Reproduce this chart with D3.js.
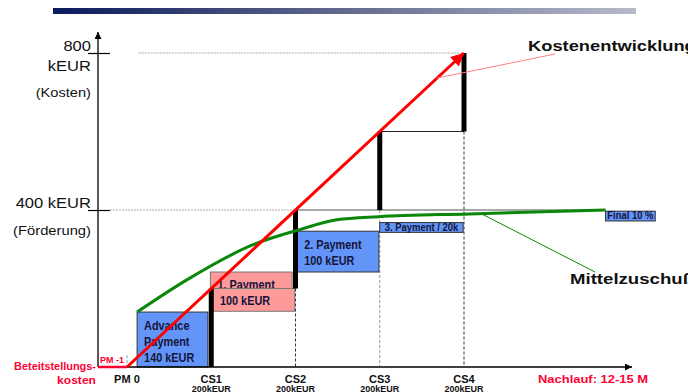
<!DOCTYPE html>
<html>
<head>
<meta charset="utf-8">
<script src="https://cdn.jsdelivr.net/npm/d3@7"></script>
<style>
body { margin: 0; background: #fff; }
svg { display: block; font-family: "Liberation Sans", Arial, sans-serif; }
</style>
</head>
<body>
<svg width="688" height="392"></svg>
<script>
// milestones along the time axis (PM 0 = 0, CS1..CS4 = 1..4)
const milestones = ["PM 0", "CS1", "CS2", "CS3", "CS4"];
const milestone_t = [0, 1, 2, 3, 4];
const milestone_sub = ["", "200kEUR", "200kEUR", "200kEUR", "200kEUR"];
const milestone_dash_from = [30, null, 200, 400, 600];

// cumulative cost after each cost statement (kEUR)
const cost_t = [1, 2, 3, 4];
const cost_steps = [200, 400, 600, 800];

// straight cost trend (Kostenentwicklung)
const cost_trend = [[0, 0], [4, 800]];

// funding curve (Mittelzuschuss)
const funding_t = [0.12, 0.71, 1.49, 2.05, 2.49, 2.99, 4.06, 5.68];
const funding_v = [140, 222, 311, 350, 375, 383, 390, 400];

// payment boxes: time span and value span
const pay_labels = [["Advance", "Payment", "140 kEUR"], ["1. Payment"], ["100 kEUR"], ["2. Payment", "100 kEUR"], ["3. Payment / 20k"], ["Final 10 %"]];
const pay_t0 = [0.12, 0.99, 1.02, 2.02, 3.0, 5.68];
const pay_t1 = [0.96, 1.96, 1.99, 2.99, 3.99, 6.27];
const pay_v0 = [0, 200, 142, 242, 343, 372];
const pay_v1 = [140, 242, 200, 346, 368, 397];
const pay_kind = ["blue", "pink", "pink", "blue", "blue", "blue"];

const y_ticks = [400, 800];

var svg = d3.select("svg");

var x = d3.scaleLinear().domain([0, 4]).range([127, 464]);
var y = d3.scaleLinear().domain([0, 800]).range([367, 53]);

const t_origin = x.invert(98);
const t_end = x.invert(632);
const v_top = y.invert(32);

var defs = svg.append("defs");
var grad = defs.append("linearGradient").attr("id", "hdr");
grad.append("stop").attr("offset", "0%").attr("stop-color", "#0a1a5c");
grad.append("stop").attr("offset", "45%").attr("stop-color", "#5a6288");
grad.append("stop").attr("offset", "100%").attr("stop-color", "#b6bacb");

function marker(id, color, w, h) {
	defs.append("marker")
		.attr("id", id)
		.attr("markerUnits", "userSpaceOnUse")
		.attr("viewBox", "0 0 10 10")
		.attr("refX", 10).attr("refY", 5)
		.attr("markerWidth", w).attr("markerHeight", h)
		.attr("orient", "auto")
		.append("path")
		.attr("d", "M0,0 L10,5 L0,10 Z")
		.attr("fill", color);
}
marker("ax", "#000", 9, 7);
marker("red", "#ff0000", 16, 13);

// text stretched to the picture's glyph widths
function add_text(x0, y0, s, size, stretch, bold, anchor, color) {
	var t = svg.append("text")
		.attr("x", x0).attr("y", y0)
		.attr("font-size", size)
		.attr("font-weight", bold ? "bold" : null)
		.attr("text-anchor", anchor || "start")
		.attr("fill", color || "#111")
		.text(s);
	var w = t.node().getComputedTextLength();
	t.attr("textLength", w * stretch).attr("lengthAdjust", "spacingAndGlyphs");
	return t;
}

svg.append("rect")
	.attr("x", 53).attr("y", 8).attr("width", 583).attr("height", 6)
	.attr("fill", "url(#hdr)");

// reference lines at 800 and 400
svg.append("line")
	.attr("x1", x(0.14)).attr("x2", x(4)).attr("y1", y(800)).attr("y2", y(800))
	.attr("stroke", "#aaa").attr("stroke-dasharray", "2,1");
svg.append("line")
	.attr("x1", 110).attr("x2", x(2)).attr("y1", y(400)).attr("y2", y(400))
	.attr("stroke", "#aaa").attr("stroke-dasharray", "2,1");

// dashed milestone lines
milestone_t.forEach(function(t, i) {
	if (milestone_dash_from[i] == null) return;
	svg.append("line")
		.attr("x1", x(t)).attr("x2", x(t))
		.attr("y1", y(milestone_dash_from[i])).attr("y2", y(0))
		.attr("stroke", (i == 2 || i == 4) ? "#333" : "#999")
		.attr("stroke-dasharray", "3,2");
});

// horizontal step lines
cost_steps.forEach(function(v, i) {
	if (i >= 3) return;
	var t_to = (v == 400) ? funding_t[funding_t.length - 1] : cost_t[i] + 1;
	svg.append("line")
		.attr("x1", x(cost_t[i])).attr("x2", x(t_to))
		.attr("y1", y(v)).attr("y2", y(v))
		.attr("stroke", v == 400 ? "#555" : "#222").attr("stroke-width", 1.2);
});

// payment boxes
pay_labels.forEach(function(lines, i) {
	var x0 = x(pay_t0[i]), x1 = x(pay_t1[i]);
	var y0 = y(pay_v1[i]), y1 = y(pay_v0[i]);
	svg.append("rect")
		.attr("x", x0).attr("y", y0)
		.attr("width", x1 - x0).attr("height", y1 - y0)
		.attr("fill", pay_kind[i] == "blue" ? "#6394f8" : "#ff9a9a")
		.attr("stroke", pay_kind[i] == "blue" ? "#333" : "#777")
		.attr("stroke-width", 1);
	var small = (y1 - y0) < 14;
	lines.forEach(function(s, j) {
		if (small) {
			add_text((x0 + x1) / 2, y1 - 1.5, s, 10.5, 0.9, true, "middle", "#14143a");
		} else {
			var yy = lines.length == 1 ? y0 + 16.5 : y0 + 17.5 + j * 16;
			add_text(x0 + 7, yy, s, 12.5, 0.87, true, "start", "#14143a");
		}
	});
});

// cost staircase bars
cost_steps.forEach(function(v, i) {
	var prev = i == 0 ? 0 : cost_steps[i - 1];
	svg.append("rect")
		.attr("x", x(cost_t[i]) - 2.5).attr("y", y(v))
		.attr("width", 5).attr("height", y(prev) - y(v))
		.attr("fill", "#000");
});

// axes
svg.append("line")
	.attr("x1", x(t_origin)).attr("x2", x(t_origin)).attr("y1", y(0)).attr("y2", y(v_top))
	.attr("stroke", "#000").attr("stroke-width", 1.3).attr("marker-end", "url(#ax)");
svg.append("line")
	.attr("x1", x(t_origin)).attr("x2", x(t_end)).attr("y1", y(0)).attr("y2", y(0))
	.attr("stroke", "#000").attr("stroke-width", 1.3).attr("marker-end", "url(#ax)");

svg.append("g")
	.attr("transform", "translate(110,0)")
	.call(d3.axisLeft(y).tickValues(y_ticks).tickSize(22).tickFormat(""))
	.call(g => g.select(".domain").remove())
	.selectAll("line").attr("stroke", "#000").attr("stroke-width", 1.2);

// y labels
add_text(91, y(800) - 2, "800", 14, 1.18, false, "end");
add_text(91, y(800) + 18, "kEUR", 14, 1.18, false, "end");
add_text(91, y(800) + 43.5, "(Kosten)", 12.5, 1.17, false, "end");
add_text(91, y(400) - 2, "400 kEUR", 14, 1.18, false, "end");
add_text(91, y(400) + 24.5, "(Förderung)", 12.5, 1.18, false, "end");

// pre-project cost (red stub)
svg.append("line")
	.attr("x1", x(t_origin)).attr("x2", x(0)).attr("y1", y(0)).attr("y2", y(0))
	.attr("stroke", "#ff0033").attr("stroke-width", 2.5);
add_text(x(t_origin) + 2, y(0) - 4, "PM -1", 9, 1.0, true, "start", "#ff0033");
add_text(96, y(0) + 3, "Beteitstellungs-", 11.5, 0.95, true, "end", "#ff0033");
add_text(96, y(0) + 17, "kosten", 11.5, 1.05, true, "end", "#ff0033");

// x labels
milestones.forEach(function(m, i) {
	add_text(x(milestone_t[i]), y(0) + 15.5, m, 10.5, 1.05, true, "middle");
	if (milestone_sub[i]) add_text(x(milestone_t[i]), y(0) + 24.5, milestone_sub[i], 9, 1.0, true, "middle");
});
add_text(538, y(0) + 15.5, "Nachlauf: 12-15 M", 11.5, 1.125, true, "start", "#ff0033");

// funding curve
var line = d3.line().x(d => x(d[0])).y(d => y(d[1])).curve(d3.curveMonotoneX);
svg.append("path")
	.datum(funding_t.map((t, i) => [t, funding_v[i]]))
	.attr("d", line)
	.attr("fill", "none").attr("stroke", "#0b870b").attr("stroke-width", 3);

// cost trend arrow
svg.append("path")
	.datum(cost_trend)
	.attr("d", d3.line().x(d => x(d[0])).y(d => y(d[1])))
	.attr("fill", "none").attr("stroke", "#ff0000").attr("stroke-width", 3)
	.attr("marker-end", "url(#red)");

// callouts
svg.append("line")
	.attr("x1", x(3.68)).attr("y1", y(736)).attr("x2", 555).attr("y2", 54)
	.attr("stroke", "#ff8080").attr("stroke-width", 1);
add_text(528, 50.5, "Kostenentwicklung", 15, 1.22, true, "start");

svg.append("line")
	.attr("x1", x(4.21)).attr("y1", y(390)).attr("x2", 595).attr("y2", 272)
	.attr("stroke", "#0b870b").attr("stroke-width", 1);
add_text(570, 284, "Mittelzuschuß", 15, 1.24, true, "start");
</script>
</body>
</html>
